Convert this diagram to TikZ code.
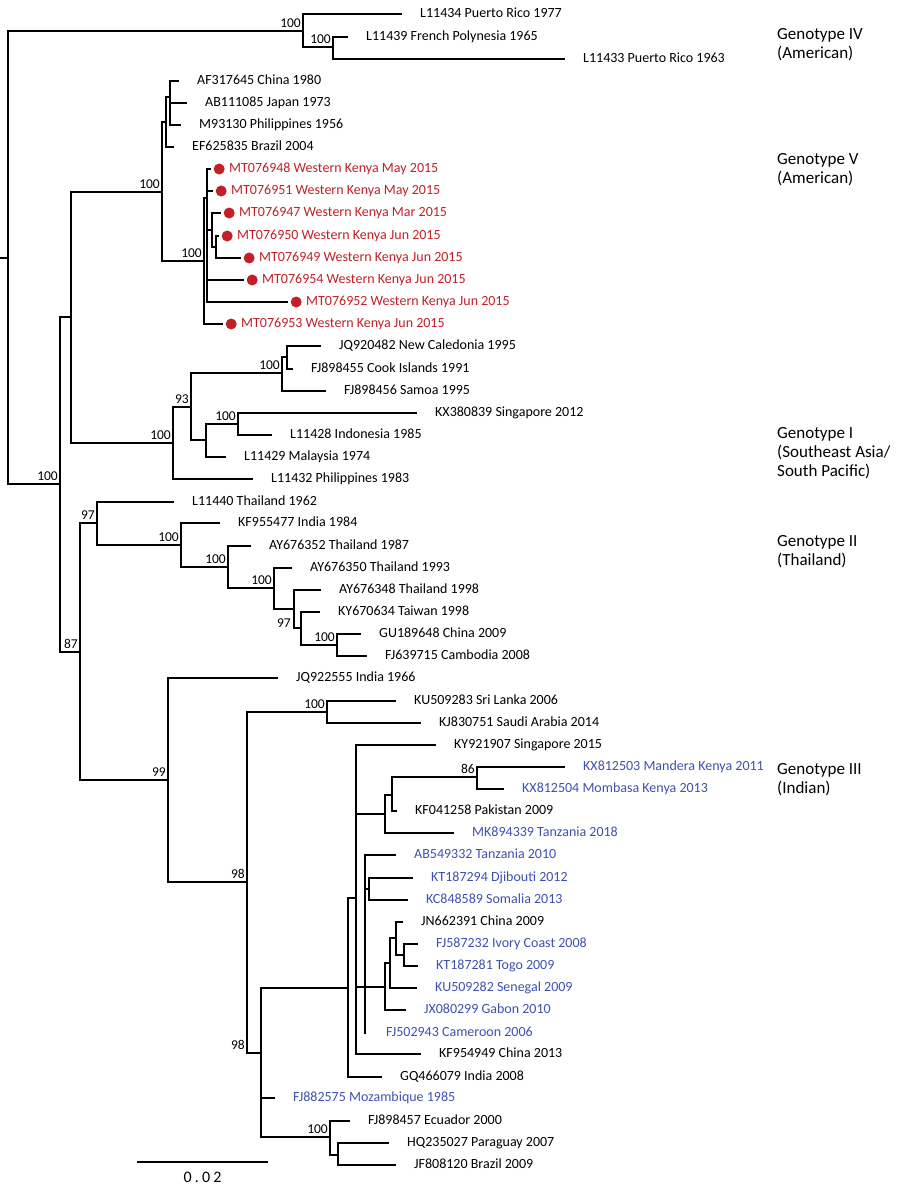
\documentclass[tikz,border=0pt]{standalone}
\usepackage{fontspec}
\setmainfont{Carlito}
\newfontfamily\barfont[LetterSpace=20]{Carlito}
\usepackage{tikz}
\usetikzlibrary{positioning}
\definecolor{kenya}{RGB}{192,32,38}
\definecolor{africa}{RGB}{62,80,176}

\begin{document}
\begin{tikzpicture}[
		x=1pt, y=-1pt,
		node distance=19pt,
		branch/.style={line width=2pt, line cap=rect},
		leaf/.style={inner sep=0pt, text height=0.64em, text depth=0pt, font=\fontsize{14}{16}\selectfont},
		ken/.style={leaf, text=kenya},
		afr/.style={leaf, text=africa},
		dot/.style={circle, fill=kenya, inner sep=0pt, minimum size=11pt},
		boot/.style={anchor=south east, inner sep=0pt, xshift=-2pt, yshift=3pt, font=\fontsize{13.5}{15}\selectfont},
		bootlow/.style={anchor=north east, inner sep=0pt, xshift=-3pt, yshift=-10pt, font=\fontsize{13.5}{15}\selectfont},
		geno/.style={anchor=west, align=left, inner sep=0pt, font=\fontsize{17}{19}\selectfont}
	]
	\useasboundingbox (0,0) rectangle (900,1193);

	% internal nodes
	\coordinate (rt)   at (0,258);
	\coordinate (r)    at (8,258);
	\coordinate (g4a)  at (303,31);
	\coordinate (g4b)  at (333,47);
	\coordinate (n1)   at (60,484);
	\coordinate (nA)   at (71,317);
	\coordinate (v1)   at (162,192);
	\coordinate (v2)   at (166,122);
	\coordinate (v3)   at (170,97);
	\coordinate (k0)   at (204,261);
	\coordinate (k1)   at (207,198);
	\coordinate (k2)   at (212,230);
	\coordinate (k3)   at (216,247);
	\coordinate (g1)   at (173,443);
	\coordinate (i93)  at (191,407);
	\coordinate (iA)   at (282,373);
	\coordinate (iB)   at (287,357);
	\coordinate (iC)   at (206,440);
	\coordinate (iD)   at (238,424);
	\coordinate (n87)  at (80,652);
	\coordinate (g2)   at (97,523);
	\coordinate (h1)   at (181,545);
	\coordinate (h2)   at (228,567);
	\coordinate (h3)   at (274,588);
	\coordinate (h4)   at (294,609);
	\coordinate (h5)   at (301,628);
	\coordinate (h6)   at (337,645);
	\coordinate (g3)   at (168,780);
	\coordinate (c98a) at (247,882);
	\coordinate (c100) at (327,712);
	\coordinate (c98b) at (261,1053);
	\coordinate (P)    at (348,988);
	\coordinate (Q)    at (356,898);
	\coordinate (R)    at (385,814);
	\coordinate (R2)   at (392,795);
	\coordinate (c86)  at (477,777);
	\coordinate (S)    at (365,987);
	\coordinate (T)    at (369,889);
	\coordinate (U)    at (385,987);
	\coordinate (V)    at (390,963);
	\coordinate (W)    at (396,938);
	\coordinate (X)    at (404,955);
	\coordinate (ec)   at (330,1137);
	\coordinate (ec2)  at (338,1155);

	% tips
	\coordinate (t01) at (401,14);
	\coordinate (t02) at (347,37);
	\coordinate (t03) at (564,59);
	\coordinate (t04) at (178,81);
	\coordinate (t05) at (186,103);
	\coordinate (t06) at (180,125);
	\coordinate (t07) at (173,147);
	\coordinate (t08) at (210,169);
	\coordinate (t09) at (212,191);
	\coordinate (t10) at (220,213);
	\coordinate (t11) at (218,236);
	\coordinate (t12) at (240,258);
	\coordinate (t13) at (243,280);
	\coordinate (t14) at (287,302);
	\coordinate (t15) at (222,324);
	\coordinate (t16) at (320,346);
	\coordinate (t17) at (292,369);
	\coordinate (t18) at (325,391);
	\coordinate (t19) at (416,413);
	\coordinate (t20) at (271,435);
	\coordinate (t21) at (225,457);
	\coordinate (t22) at (252,479);
	\coordinate (t23) at (173,502);
	\coordinate (t24) at (219,523);
	\coordinate (t25) at (250,546);
	\coordinate (t26) at (291,568);
	\coordinate (t27) at (320,590);
	\coordinate (t28) at (319,612);
	\coordinate (t29) at (360,634);
	\coordinate (t30) at (366,656);
	\coordinate (t31) at (277,678);
	\coordinate (t32) at (395,701);
	\coordinate (t33) at (420,723);
	\coordinate (t34) at (435,745);
	\coordinate (t35) at (564,767);
	\coordinate (t36) at (503,789);
	\coordinate (t37) at (396,811);
	\coordinate (t38) at (453,833);
	\coordinate (t39) at (395,855);
	\coordinate (t40) at (412,878);
	\coordinate (t41) at (407,900);
	\coordinate (t42) at (402,922);
	\coordinate (t43) at (417,944);
	\coordinate (t44) at (417,966);
	\coordinate (t45) at (416,988);
	\coordinate (t46) at (405,1010);
	\coordinate (t47) at (365,1033);
	\coordinate (t48) at (420,1054);
	\coordinate (t49) at (381,1077);
	\coordinate (t50) at (274,1098);
	\coordinate (t51) at (349,1121);
	\coordinate (t52) at (388,1143);
	\coordinate (t53) at (395,1165);

	% branches
	\draw[branch]
		(rt) -- (r)
		(r) |- (g4a)   (r) |- (n1)
		(g4a) |- (t01) (g4a) |- (g4b)
		(g4b) |- (t02) (g4b) |- (t03)
		(n1) |- (nA)   (n1) |- (n87)
		(nA) |- (v1)   (nA) |- (g1)
		(v1) |- (v2)   (v1) |- (k0)
		(v2) |- (v3)   (v2) |- (t07)
		(v3) |- (t04)  (v3) |- (t05)  (v3) |- (t06)
		(k0) |- (k1)   (k0) |- (t15)
		(k1) |- (t08)  (k1) |- (t09)  (k1) |- (k2)  (k1) |- (t13)  (k1) |- (t14)
		(k2) |- (t10)  (k2) |- (k3)
		(k3) |- (t11)  (k3) |- (t12)
		(g1) |- (i93)  (g1) |- (t22)
		(i93) |- (iA)  (i93) |- (iC)
		(iA) |- (iB)   (iA) |- (t18)
		(iB) |- (t16)  (iB) |- (t17)
		(iC) |- (iD)   (iC) |- (t21)
		(iD) |- (t19)  (iD) |- (t20)
		(n87) |- (g2)  (n87) |- (g3)
		(g2) |- (t23)  (g2) |- (h1)
		(h1) |- (t24)  (h1) |- (h2)
		(h2) |- (t25)  (h2) |- (h3)
		(h3) |- (t26)  (h3) |- (h4)
		(h4) |- (t27)  (h4) |- (h5)
		(h5) |- (t28)  (h5) |- (h6)
		(h6) |- (t29)  (h6) |- (t30)
		(g3) |- (t31)  (g3) |- (c98a)
		(c98a) |- (c100) (c98a) |- (c98b)
		(c100) |- (t32) (c100) |- (t33)
		(c98b) |- (P)  (c98b) |- (t50) (c98b) |- (ec)
		(P) |- (Q)     (P) |- (t49)
		(Q) |- (t34)   (Q) |- (R)     (Q) |- (S)    (Q) |- (t48)
		(R) |- (R2)    (R) |- (t38)
		(R2) |- (c86)  (R2) |- (t37)
		(c86) |- (t35) (c86) |- (t36)
		(S) |- (t39)   (S) |- (T)     (S) |- (U)    (S) -- (t47)
		(T) |- (t40)   (T) |- (t41)
		(U) |- (V)     (U) |- (t46)
		(V) |- (W)     (V) |- (t45)
		(W) |- (t42)   (W) |- (X)
		(X) |- (t43)   (X) |- (t44)
		(ec) |- (t51)  (ec) |- (ec2)
		(ec2) |- (t52) (ec2) |- (t53)
	;

	% support values
	\node[boot] at (g4a)  {100};
	\node[boot] at (g4b)  {100};
	\node[boot] at (n1)   {100};
	\node[boot] at (v1)   {100};
	\node[boot] at (k0)   {100};
	\node[boot] at (g1)   {100};
	\node[boot] at (i93)  {93};
	\node[boot] at (iA)   {100};
	\node[boot] at (iD)   {100};
	\node[boot] at (n87)  {87};
	\node[boot] at (g2)   {97};
	\node[boot] at (h1)   {100};
	\node[boot] at (h2)   {100};
	\node[boot] at (h3)   {100};
	\node[bootlow] at (h4) {97};
	\node[boot] at (h6)   {100};
	\node[boot] at (g3)   {99};
	\node[boot] at (c98a) {98};
	\node[boot] at (c100) {100};
	\node[boot] at (c98a |- c98b) {98};
	\node[boot] at (c86)  {86};
	\node[boot] at (ec)   {100};

	% taxa
	\node[leaf, right=of t01] (l01) {L11434 Puerto Rico 1977};
	\node[leaf, right=of t02] (l02) {L11439 French Polynesia 1965};
	\node[leaf, right=of t03] (l03) {L11433 Puerto Rico 1963};
	\node[leaf, right=of t04] (l04) {AF317645 China 1980};
	\node[leaf, right=of t05] (l05) {AB111085 Japan 1973};
	\node[leaf, right=of t06] (l06) {M93130 Philippines 1956};
	\node[leaf, right=of t07] (l07) {EF625835 Brazil 2004};
	\foreach \t in {08,09,10,11,12,13,14,15}
		\node[dot, right=3.5pt of t\t] (d\t) {};
	\node[ken, right=of t08] (l08) {MT076948 Western Kenya May 2015};
	\node[ken, right=of t09] (l09) {MT076951 Western Kenya May 2015};
	\node[ken, right=of t10] (l10) {MT076947 Western Kenya Mar 2015};
	\node[ken, right=of t11] (l11) {MT076950 Western Kenya Jun 2015};
	\node[ken, right=of t12] (l12) {MT076949 Western Kenya Jun 2015};
	\node[ken, right=of t13] (l13) {MT076954 Western Kenya Jun 2015};
	\node[ken, right=of t14] (l14) {MT076952 Western Kenya Jun 2015};
	\node[ken, right=of t15] (l15) {MT076953 Western Kenya Jun 2015};
	\node[leaf, right=of t16] (l16) {JQ920482 New Caledonia 1995};
	\node[leaf, right=of t17] (l17) {FJ898455 Cook Islands 1991};
	\node[leaf, right=of t18] (l18) {FJ898456 Samoa 1995};
	\node[leaf, right=of t19] (l19) {KX380839 Singapore 2012};
	\node[leaf, right=of t20] (l20) {L11428 Indonesia 1985};
	\node[leaf, right=of t21] (l21) {L11429 Malaysia 1974};
	\node[leaf, right=of t22] (l22) {L11432 Philippines 1983};
	\node[leaf, right=of t23] (l23) {L11440 Thailand 1962};
	\node[leaf, right=of t24] (l24) {KF955477 India 1984};
	\node[leaf, right=of t25] (l25) {AY676352 Thailand 1987};
	\node[leaf, right=of t26] (l26) {AY676350 Thailand 1993};
	\node[leaf, right=of t27] (l27) {AY676348 Thailand 1998};
	\node[leaf, right=of t28] (l28) {KY670634 Taiwan 1998};
	\node[leaf, right=of t29] (l29) {GU189648 China 2009};
	\node[leaf, right=of t30] (l30) {FJ639715 Cambodia 2008};
	\node[leaf, right=of t31] (l31) {JQ922555 India 1966};
	\node[leaf, right=of t32] (l32) {KU509283 Sri Lanka 2006};
	\node[leaf, right=of t33] (l33) {KJ830751 Saudi Arabia 2014};
	\node[leaf, right=of t34] (l34) {KY921907 Singapore 2015};
	\node[afr,  right=of t35] (l35) {KX812503 Mandera Kenya 2011};
	\node[afr,  right=of t36] (l36) {KX812504 Mombasa Kenya 2013};
	\node[leaf, right=of t37] (l37) {KF041258 Pakistan 2009};
	\node[afr,  right=of t38] (l38) {MK894339 Tanzania 2018};
	\node[afr,  right=of t39] (l39) {AB549332 Tanzania 2010};
	\node[afr,  right=of t40] (l40) {KT187294 Djibouti 2012};
	\node[afr,  right=of t41] (l41) {KC848589 Somalia 2013};
	\node[leaf, right=of t42] (l42) {JN662391 China 2009};
	\node[afr,  right=of t43] (l43) {FJ587232 Ivory Coast 2008};
	\node[afr,  right=of t44] (l44) {KT187281 Togo 2009};
	\node[afr,  right=of t45] (l45) {KU509282 Senegal 2009};
	\node[afr,  right=of t46] (l46) {JX080299 Gabon 2010};
	\node[afr,  right=21pt of t47] (l47) {FJ502943 Cameroon 2006};
	\node[leaf, right=of t48] (l48) {KF954949 China 2013};
	\node[leaf, right=of t49] (l49) {GQ466079 India 2008};
	\node[afr,  right=of t50] (l50) {FJ882575 Mozambique 1985};
	\node[leaf, right=of t51] (l51) {FJ898457 Ecuador 2000};
	\node[leaf, right=of t52] (l52) {HQ235027 Paraguay 2007};
	\node[leaf, right=of t53] (l53) {JF808120 Brazil 2009};

	% genotypes
	\node[geno] (gIV)  at (777,44.5) {Genotype IV\\(American)};
	\node[geno] (gV)   at (777,170)  {Genotype V\\(American)};
	\node[geno] (gI)   at (777,453.5){Genotype I\\(Southeast Asia/\\South Pacific)};
	\node[geno] (gII)  at (777,552)  {Genotype II\\(Thailand)};
	\node[geno] (gIII) at (777,779.5){Genotype III\\(Indian)};

	% scale
	\coordinate (sb1) at (137,1162);
	\coordinate (sb2) at (268,1162);
	\draw[line width=1.5pt] (sb1) -- node[below=9pt, inner sep=0pt, font=\barfont\fontsize{16}{18}\selectfont] (sbl) {0.02} (sb2);
\end{tikzpicture}
\end{document}
